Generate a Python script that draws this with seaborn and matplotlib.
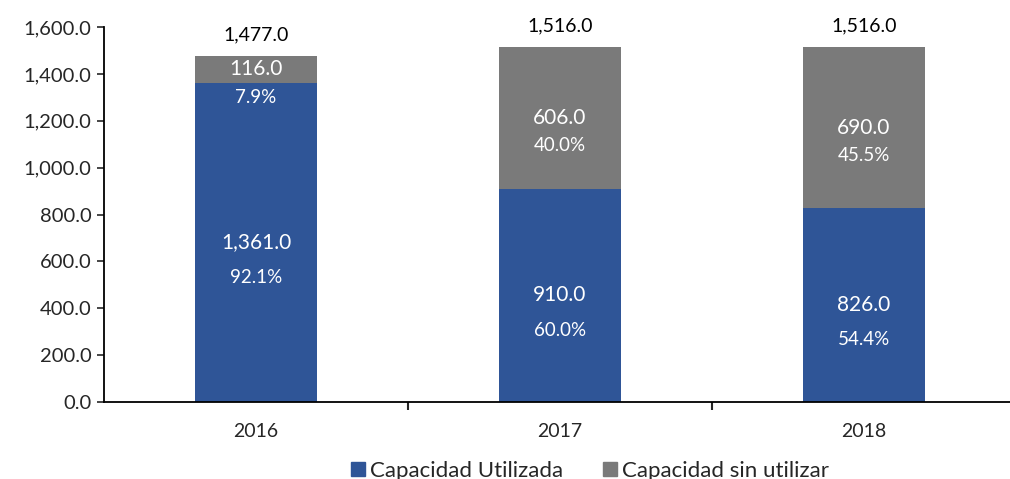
import pandas as pd
import seaborn as sns
import matplotlib.pyplot as plt
from matplotlib.lines import Line2D

years = ['2016', '2017', '2018']
utilizada = [1361.0, 910.0, 826.0]
sin_utilizar = [116.0, 606.0, 690.0]
pct_utilizada = ['92.1%', '60.0%', '54.4%']
pct_sin = ['7.9%', '40.0%', '45.5%']
totales = [1477.0, 1516.0, 1516.0]
y_ticks = [0, 200, 400, 600, 800, 1000, 1200, 1400, 1600]

azul = '#2F5597'
gris = '#7A7A7A'

df = pd.DataFrame({'anio': years, 'utilizada': utilizada,
                   'sin': sin_utilizar, 'total': totales})

sns.set_style('white')
plt.rcParams['font.family'] = ['Lato', 'DejaVu Sans']

fig = plt.figure(figsize=(10.1, 4.79), dpi=100)
ax = fig.add_axes([104 / 1010, 77 / 479, 912 / 1010, 375 / 479])

# barra total (gris) debajo, utilizada (azul) encima
sns.barplot(x='anio', y='total', data=df, color=gris, width=0.4,
            saturation=1, linewidth=0, ax=ax)
sns.barplot(x='anio', y='utilizada', data=df, color=azul, width=0.4,
            saturation=1, linewidth=0, ax=ax)

for i in range(len(years)):
    u = utilizada[i]
    s = sin_utilizar[i]
    t = totales[i]
    ax.text(i, u / 2, f'{u:,.1f}', color='white', fontsize=15,
            ha='center', va='center')
    ax.annotate(pct_utilizada[i], (i, u / 2), xytext=(0, -25),
                textcoords='offset points', color='white', fontsize=13.5,
                ha='center', va='center')
    ax.text(i, u + s / 2, f'{s:,.1f}', color='white', fontsize=15,
            ha='center', va='center')
    ax.annotate(pct_sin[i], (i, u + s / 2), xytext=(0, -20),
                textcoords='offset points', color='white', fontsize=13.5,
                ha='center', va='center')
    ax.annotate(f'{t:,.1f}', (i, t), xytext=(0, 15),
                textcoords='offset points', color='black', fontsize=14,
                ha='center', va='center')

ax.set_xlim(-0.5, 2.5)
ax.set_ylim(0, 1600)
ax.set_yticks(y_ticks)
ax.set_yticklabels([f'{v:,.1f}' for v in y_ticks], fontsize=14.5)
ax.set_xticks([0, 1, 2])
ax.set_xticklabels(years, fontsize=14)
ax.tick_params(axis='x', length=0, pad=15)
ax.tick_params(axis='y', length=5, width=1.2, direction='out', left=True, pad=4)
ax.set_xticks([0.5, 1.5], minor=True)
ax.tick_params(axis='x', which='minor', length=6, width=1.5, bottom=True)
ax.set_xlabel('')
ax.set_ylabel('')

for side in ['top', 'right']:
    ax.spines[side].set_visible(False)
for side in ['left', 'bottom']:
    ax.spines[side].set_color('black')
    ax.spines[side].set_linewidth(1.3)

handles = [Line2D([], [], marker='s', color=azul, linestyle='', markersize=10),
           Line2D([], [], marker='s', color=gris, linestyle='', markersize=10)]
fig.legend(handles, ['Capacidad Utilizada', 'Capacidad sin utilizar'],
           loc='lower center', bbox_to_anchor=(0.582, -0.045), ncol=2,
           frameon=False, fontsize=16, handletextpad=0.05, columnspacing=1.6,
           handlelength=1.0)

fig.savefig('out.png', dpi=100)
